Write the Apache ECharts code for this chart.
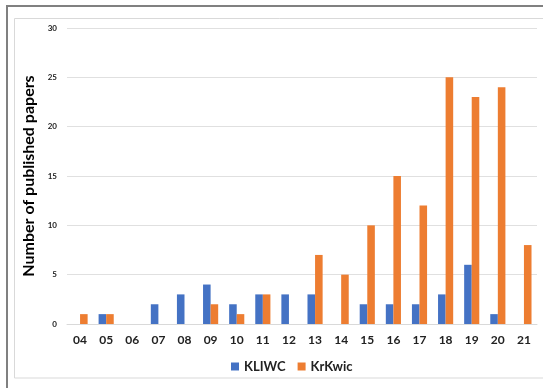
<!DOCTYPE html>
<html><head><meta charset="utf-8">
<script src="https://cdn.jsdelivr.net/npm/echarts@6/dist/echarts.min.js"></script>
<style>html,body{margin:0;padding:0;background:#fff}#c{width:543px;height:388px}</style>
</head><body><div id="c"></div>
<script>
const categories = ['04','05','06','07','08','09','10','11','12','13','14','15','16','17','18','19','20','21'];
const kliwc = [0,1,0,2,3,4,2,3,3,3,0,2,2,2,3,6,1,0];
const krkwic = [1,1,0,0,0,2,1,3,0,7,5,10,15,12,25,23,24,8];
const yTicks = [0,5,10,15,20,25,30];
const FONT = 'Lato';
const chart = echarts.init(document.getElementById('c'), null, {renderer:'canvas'});
chart.setOption({
  animation:false,
  textStyle:{fontFamily:FONT},
  graphic:[
    {type:'rect', shape:{x:14.5,y:18.5,width:540,height:359.5}, style:{fill:'none',stroke:'#d9d9d9',lineWidth:1}, silent:true},
    {type:'line', shape:{x1:7,y1:6,x2:7,y2:388}, style:{stroke:'#808080',lineWidth:2}, silent:true},
    {type:'line', shape:{x1:6,y1:6,x2:543,y2:6}, style:{stroke:'#808080',lineWidth:2}, silent:true}
  ],
  legend:{
    data:['KLIWC','KrKwic'], top:355, left:226, itemWidth:8, itemHeight:8, itemGap:12, icon:'rect',
    textStyle:{fontFamily:FONT,fontSize:13,fontWeight:'bold',color:'#222'}
  },
  grid:{left:67,right:6,top:28,bottom:64,containLabel:false},
  xAxis:{
    type:'category', data:categories,
    axisLine:{lineStyle:{color:'#d9d9d9'}}, axisTick:{show:false},
    axisLabel:{fontFamily:FONT,fontSize:12,fontWeight:'bold',color:'#222',margin:10}
  },
  yAxis:{
    type:'value', min:yTicks[0], max:yTicks[yTicks.length-1], interval:5,
    name:'Number of published papers', nameLocation:'middle', nameGap:21,
    nameTextStyle:{fontFamily:FONT,fontSize:16,fontWeight:'bold',color:'#000'},
    axisLine:{show:false}, axisTick:{show:false},
    splitLine:{lineStyle:{color:'#e0e0e0'}},
    axisLabel:{fontFamily:FONT,fontSize:8,fontWeight:'bold',color:'#222',margin:10}
  },
  series:[
    {name:'KLIWC', type:'bar', data:kliwc, barGap:'0%', barCategoryGap:'42%',
     itemStyle:{color:'#4472C4'}},
    {name:'KrKwic', type:'bar', data:krkwic, barGap:'0%', barCategoryGap:'42%',
     itemStyle:{color:'#ED7D31'}}
  ]
});
</script></body></html>
